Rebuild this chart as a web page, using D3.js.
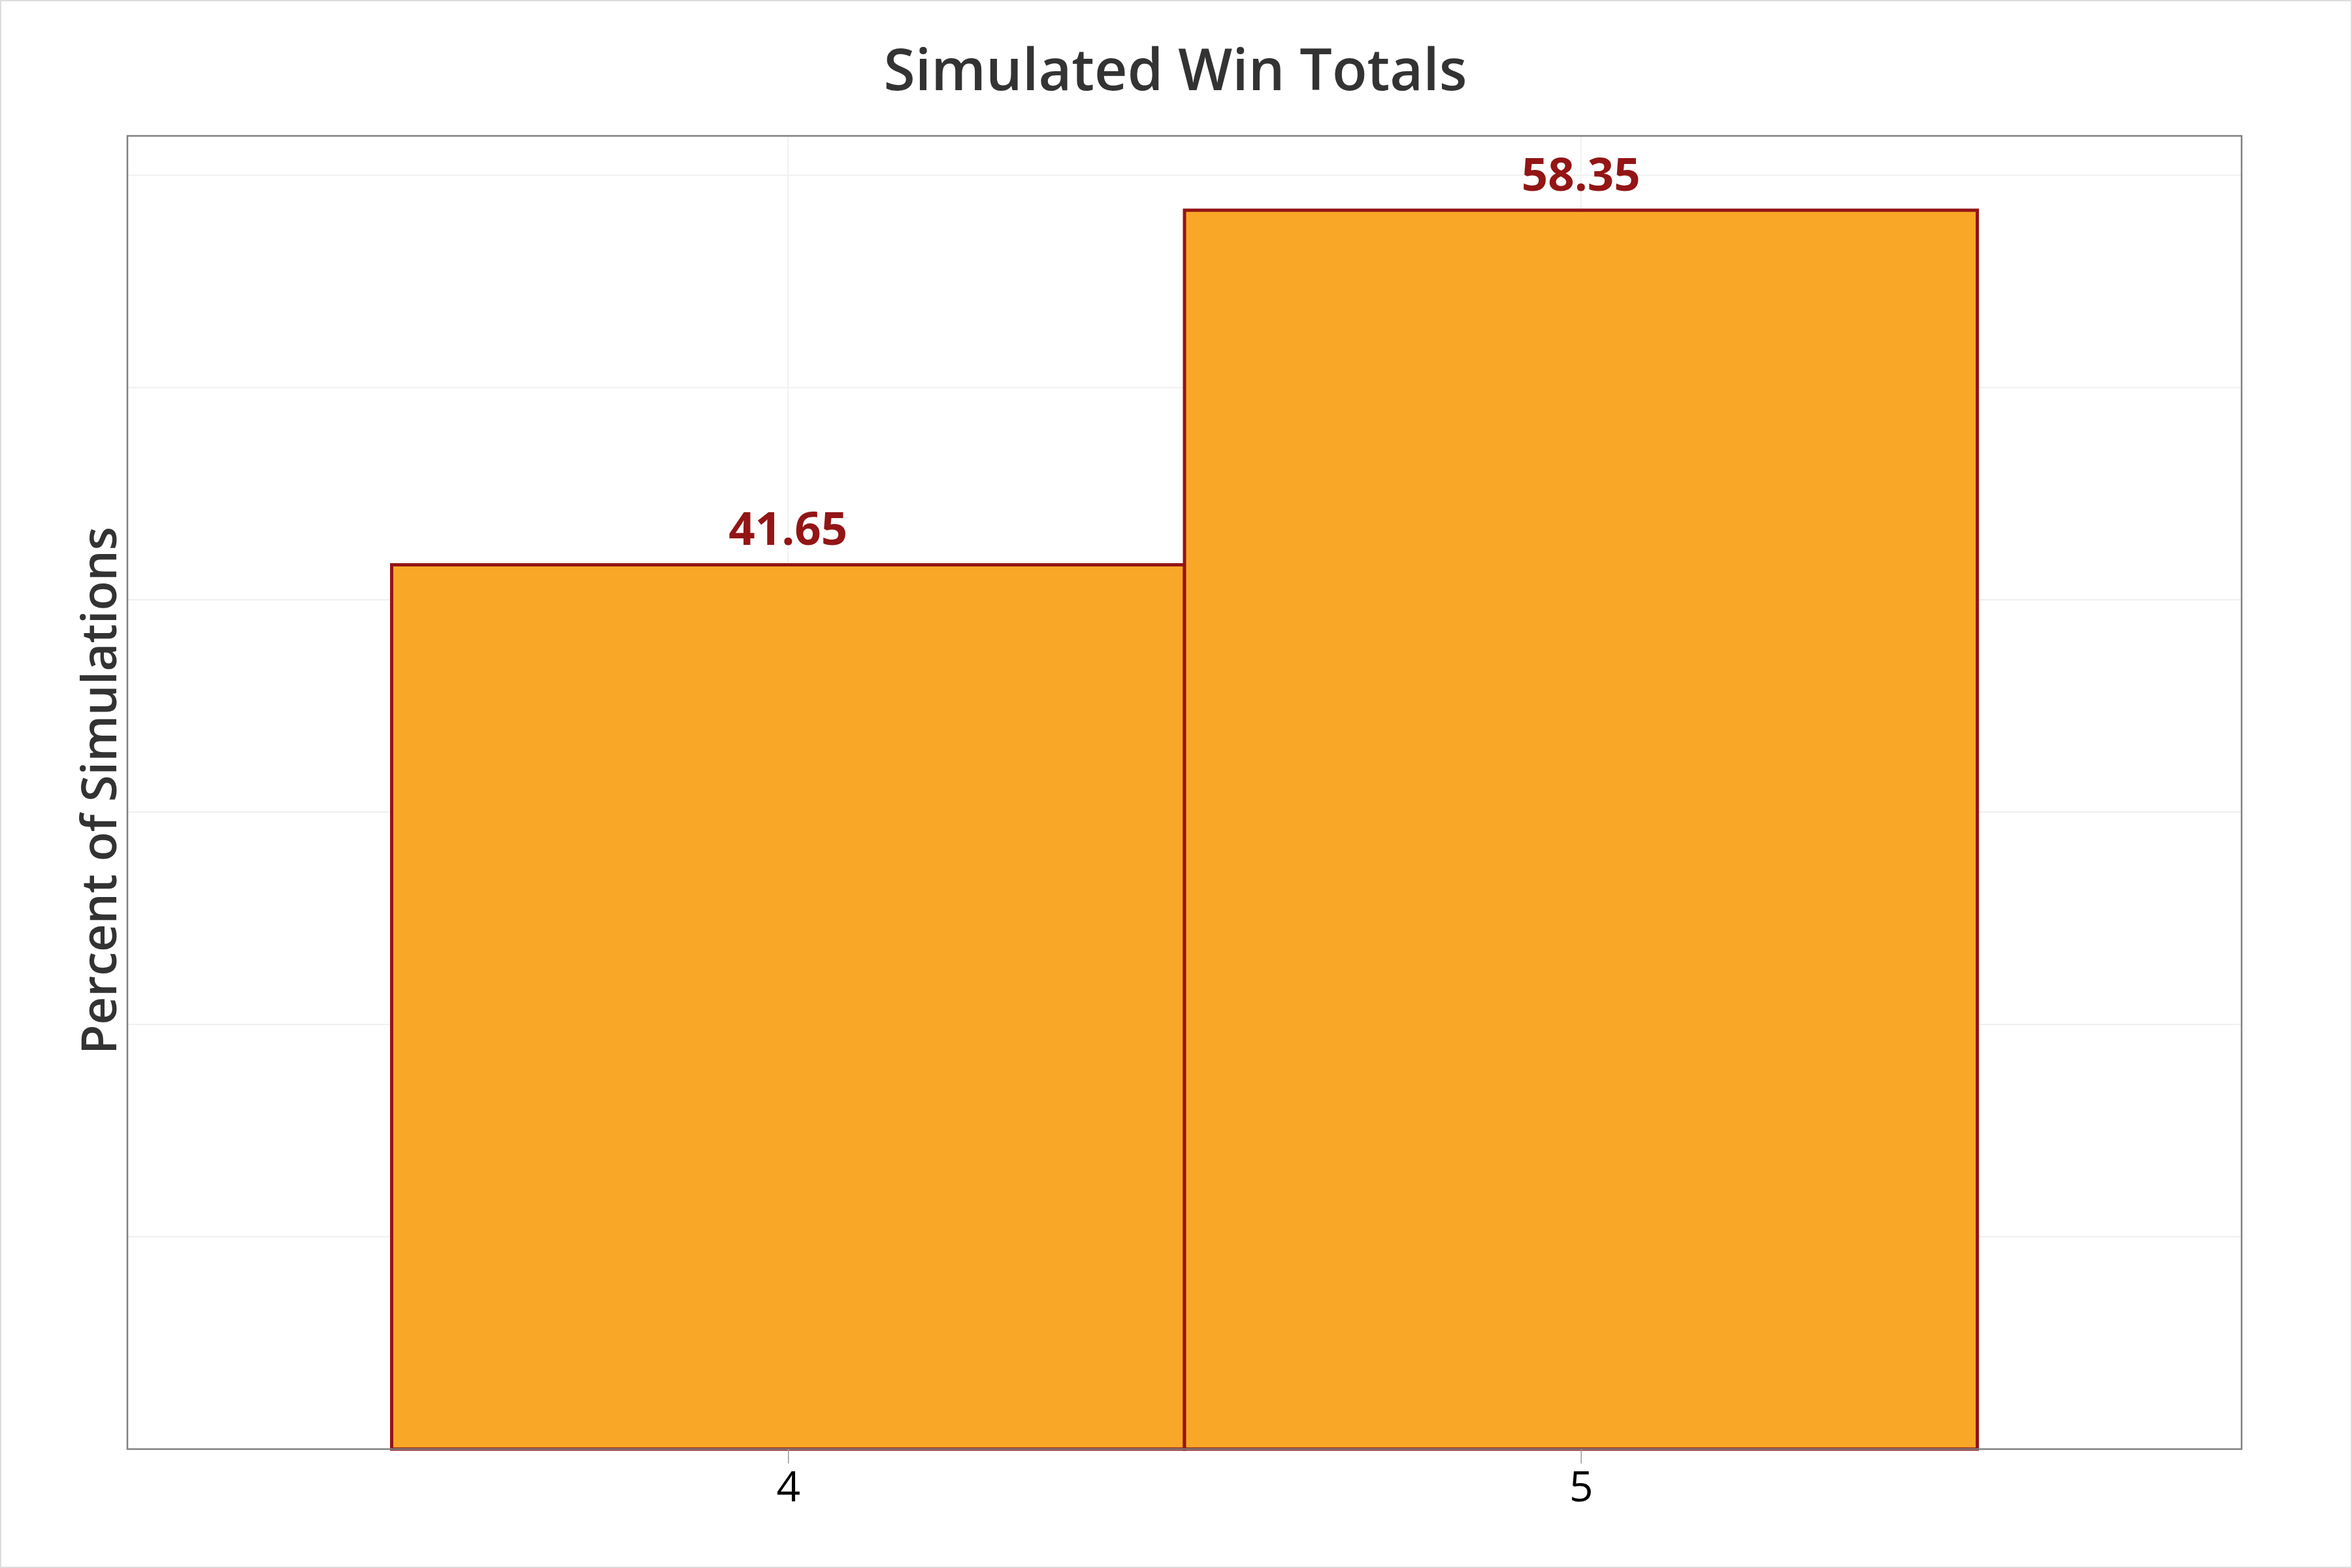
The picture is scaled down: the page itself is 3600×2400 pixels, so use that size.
<!DOCTYPE html>
<html><head><meta charset="utf-8">
<script src="https://cdn.jsdelivr.net/npm/d3@7"></script>
<style>body{margin:0;background:#fff} svg{display:block}</style>
</head><body>
<svg id="chart" width="3600" height="2400"></svg>
<script>
const categories = [4, 5];
const percentValues = [41.65, 58.35];
const yTicks = [10, 20, 30, 40, 50, 60];
const titleText = "Simulated Win Totals";
const yLabelText = "Percent of Simulations";

const W = 3600, H = 2400;
const plot = {left: 195, right: 3431, top: 208, bottom: 2218};
const FONT = "'Open Sans', 'Noto Sans', sans-serif";

const svg = d3.select("#chart");
svg.append("rect").attr("x", 0).attr("y", 0).attr("width", W).attr("height", H).attr("fill", "#fff");
svg.append("rect").attr("x", 1).attr("y", 1).attr("width", W - 2).attr("height", H - 2)
  .attr("fill", "none").attr("stroke", "#dddddd").attr("stroke-width", 2);

const x = d3.scaleLinear()
  .domain([d3.min(categories) - 0.5 - 1/3, d3.max(categories) + 0.5 + 1/3])
  .range([plot.left, plot.right]);
const y = d3.scaleLinear()
  .domain([0, d3.max(percentValues) * 1.06])
  .range([plot.bottom, plot.top]);

function fit(sel, target) {
  const w = sel.node().getComputedTextLength();
  const fs = parseFloat(sel.attr("font-size"));
  sel.attr("font-size", fs * target / w);
}

// gridlines
svg.append("g").selectAll("line").data(yTicks).join("line")
  .attr("x1", plot.left).attr("x2", plot.right)
  .attr("y1", d => y(d)).attr("y2", d => y(d))
  .attr("stroke", "#f0f0f0").attr("stroke-width", 2);
svg.append("g").selectAll("line").data(categories).join("line")
  .attr("x1", d => x(d)).attr("x2", d => x(d))
  .attr("y1", plot.top).attr("y2", plot.bottom)
  .attr("stroke", "#f0f0f0").attr("stroke-width", 2);

// bars
const data = categories.map((c, i) => ({c, v: percentValues[i]}));
svg.append("g").selectAll("rect").data(data).join("rect")
  .attr("x", d => x(d.c - 0.5))
  .attr("width", d => x(d.c + 0.5) - x(d.c - 0.5))
  .attr("y", d => y(d.v))
  .attr("height", d => y(0) - y(d.v))
  .attr("fill", "#F9A727")
  .attr("stroke", "#931515")
  .attr("stroke-width", 5);

// value labels
svg.append("g").selectAll("text").data(data).join("text")
  .attr("x", d => x(d.c))
  .attr("y", d => y(d.v) - 30)
  .attr("text-anchor", "middle")
  .attr("font-family", FONT)
  .attr("font-weight", "bold")
  .attr("font-size", 70)
  .attr("fill", "#931515")
  .text(d => d.v.toFixed(2))
  .each(function() { fit(d3.select(this), 182); });

// frame
svg.append("rect")
  .attr("x", plot.left).attr("y", plot.top)
  .attr("width", plot.right - plot.left).attr("height", plot.bottom - plot.top)
  .attr("fill", "none").attr("stroke", "#808080").attr("stroke-width", 2.5);

// x axis
const xAxis = svg.append("g")
  .attr("transform", `translate(0,${plot.bottom})`)
  .call(d3.axisBottom(x).tickValues(categories).tickSize(22).tickPadding(13).tickFormat(d3.format("d")));
xAxis.select(".domain").remove();
xAxis.selectAll(".tick line").attr("stroke", "#999").attr("stroke-width", 1.5);
xAxis.selectAll(".tick text").attr("font-family", FONT).attr("font-size", 64)
  .attr("font-weight", 500).attr("fill", "#000");

// title
const t = svg.append("text")
  .attr("x", 1799).attr("y", 138)
  .attr("text-anchor", "middle")
  .attr("font-family", FONT)
  .attr("font-weight", 600)
  .attr("font-size", 90)
  .attr("fill", "#333333")
  .text(titleText);
fit(t, 893);

// y label
const yl = svg.append("text")
  .attr("transform", "translate(178,1210) rotate(-90)")
  .attr("text-anchor", "middle")
  .attr("font-family", FONT)
  .attr("font-weight", 600)
  .attr("font-size", 78)
  .attr("fill", "#333333")
  .text(yLabelText);
fit(yl, 808);
</script>
</body></html>
